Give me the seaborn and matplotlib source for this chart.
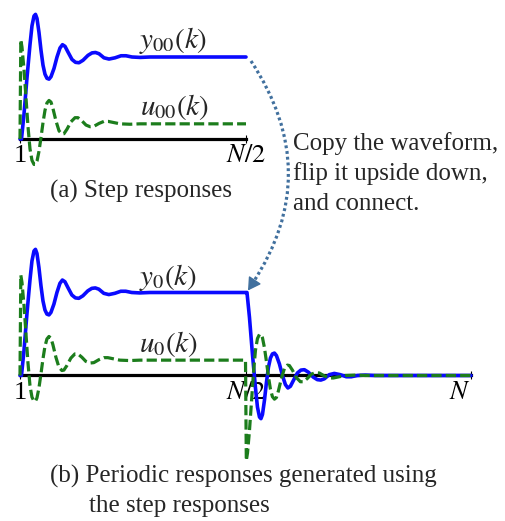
import numpy as np
import pandas as pd
import matplotlib
matplotlib.use("Agg")
import matplotlib.pyplot as plt
import seaborn as sns
from matplotlib.patches import FancyArrowPatch

# ---------------- data (k scaled so that N = 100) ----------------
N_HALF = 50
k_y00 = [0.0, 0.33, 0.88, 1.55, 2.21, 2.65, 3.10, 3.43, 3.76, 4.20, 4.65, 5.09, 5.53,
         5.97, 6.42, 6.86, 7.52, 8.19, 8.85, 9.40, 9.96, 10.62, 11.50, 12.28, 13.05,
         13.94, 15.04, 15.93, 16.70, 17.48, 18.58, 19.69, 21.02, 22.35, 23.45, 24.78,
         26.55, 28.76, 50.0]
y00 = [0.0, 0.0, 0.30, 0.75, 1.15, 1.38, 1.50, 1.52, 1.47, 1.30, 1.08, 0.90, 0.79,
       0.74, 0.73, 0.76, 0.86, 1.00, 1.11, 1.15, 1.13, 1.06, 0.97, 0.935, 0.93,
       0.96, 1.02, 1.05, 1.055, 1.04, 0.99, 0.975, 0.99, 1.015, 1.015, 1.0,
       0.995, 1.0, 1.0]

k_u00 = [0.0, 0.18, 0.44, 0.88, 1.33, 1.77, 2.21, 2.65, 3.10, 3.43, 3.76, 4.20, 4.65,
         5.09, 5.53, 5.97, 6.42, 6.86, 7.30, 7.96, 8.63, 9.29, 9.73, 10.40, 11.28,
         12.17, 12.83, 13.72, 14.60, 15.49, 16.37, 17.48, 18.58, 19.47, 20.80, 22.12,
         24.34, 26.55, 50.0]
u00 = [0.0, 1.21, 1.12, 0.85, 0.50, 0.15, -0.12, -0.26, -0.31, -0.31, -0.27, -0.15, 0.02,
       0.20, 0.35, 0.44, 0.47, 0.45, 0.37, 0.22, 0.10, 0.06, 0.065, 0.12, 0.21,
       0.26, 0.26, 0.22, 0.17, 0.15, 0.155, 0.19, 0.215, 0.215, 0.20, 0.185,
       0.18, 0.185, 0.185]

ticks_a = [0, N_HALF]
tick_labels_a = ["1", r"$N/2$"]
ticks_b = [0, N_HALF, 2 * N_HALF]
tick_labels_b = ["1", r"$N/2$", r"$N$"]

# periodic responses: copy the step waveform, flip it upside down, and connect
k_y0 = k_y00 + [k + N_HALF for k in k_y00]
y0 = y00 + [y00[-1] - v for v in y00]
k_u0 = k_u00 + [k + N_HALF for k in k_u00]
u0 = u00 + [u00[-1] - v for v in u00]

df_a_y = pd.DataFrame({"k": k_y00, "v": y00})
df_a_u = pd.DataFrame({"k": k_u00, "v": u00})
df_b_y = pd.DataFrame({"k": k_y0, "v": y0})
df_b_u = pd.DataFrame({"k": k_u0, "v": u0})

# ---------------- style ----------------
sns.set_style("white")
plt.rcParams["font.family"] = ["Liberation Serif", "DejaVu Serif"]
plt.rcParams["mathtext.fontset"] = "stix"

BLUE = "#0a0aff"
GREEN = "#1c7d1c"
ARROW = "#41709e"

W, H = 505, 521
fig = plt.figure(figsize=(W / 100, H / 100), dpi=100)


def axpos(x0, x1, ytop, ybot):
    return [x0 / W, 1 - ybot / H, (x1 - x0) / W, (ybot - ytop) / H]


def style_axis(ax, ticks, labels):
    for s in ("left", "right", "top"):
        ax.spines[s].set_visible(False)
    ax.spines["bottom"].set_position(("data", 0))
    ax.spines["bottom"].set_linewidth(2.3)
    ax.spines["bottom"].set_color("black")
    ax.spines["bottom"].set_zorder(2)
    ax.set_yticks([])
    ax.set_xticks(ticks)
    ax.set_xticklabels(labels, fontsize=19)
    ax.tick_params(axis="x", direction="inout", length=6, width=0.8, pad=1.5,
                   colors="black", bottom=True)
    ax.set_xlabel("")
    ax.set_ylabel("")
    ax.patch.set_alpha(0)


def draw(ax, dfy, dfu):
    sns.lineplot(data=dfy, x="k", y="v", ax=ax, color=BLUE, linewidth=2.6,
                 estimator=None, sort=False, zorder=3)
    sns.lineplot(data=dfu, x="k", y="v", ax=ax, color=GREEN, linewidth=2.3,
                 estimator=None, sort=False, linestyle="--", zorder=4)
    for ln in ax.lines:
        ln.set_clip_on(False)
        ln.set_solid_joinstyle("round")
        ln.set_solid_capstyle("round")
    ax.lines[-1].set_dashes((3.2, 1.3))


# panel (a)
axA = fig.add_axes(axpos(20, 246, 5, 175))
draw(axA, df_a_y, df_a_u)
axA.set_xlim(0, N_HALF)
axA.set_ylim((139 - 175) / 82, (139 - 5) / 82)
style_axis(axA, ticks_a, tick_labels_a)

# panel (b)
axB = fig.add_axes(axpos(20, 471, 230, 470))
draw(axB, df_b_y, df_b_u)
axB.set_xlim(0, 2 * N_HALF)
axB.set_ylim((375.5 - 470) / 83, (375.5 - 230) / 83)
style_axis(axB, ticks_b, tick_labels_b)
axB.get_xticklabels()[-1].set_horizontalalignment("right")

# overlay in pixel coordinates for annotations
ov = fig.add_axes([0, 0, 1, 1])
ov.set_xlim(0, W)
ov.set_ylim(H, 0)
ov.axis("off")
ov.patch.set_alpha(0)

fs = 18
fl = 21
ov.text(139, 48, r"$y_{00}(k)$", fontsize=fl, va="baseline")
ov.text(140, 115, r"$u_{00}(k)$", fontsize=fl, va="baseline")
ov.text(139, 285, r"$y_{0}(k)$", fontsize=fl, va="baseline")
ov.text(139, 352, r"$u_{0}(k)$", fontsize=fl, va="baseline")

ov.text(50, 198, "(a) Step responses", fontsize=fs, va="baseline")
ov.text(50, 483, "(b) Periodic responses generated using", fontsize=fs, va="baseline")
ov.text(89, 512, "the step responses", fontsize=fs, va="baseline")

ov.text(293, 150, "Copy the waveform,", fontsize=fs, va="baseline")
ov.text(293, 180, "flip it upside down,", fontsize=fs, va="baseline")
ov.text(293, 210, "and connect.", fontsize=fs, va="baseline")

arc = FancyArrowPatch((251, 61), (248, 290), connectionstyle="arc3,rad=-0.34",
                      arrowstyle="-", linestyle=(0, (0.9, 0.9)), linewidth=2.3,
                      color=ARROW, shrinkA=0, shrinkB=6, capstyle="butt")
ov.add_patch(arc)
head = FancyArrowPatch((254, 281.5), (248, 290.5),
                       arrowstyle="-|>,head_length=0.55,head_width=0.32",
                       mutation_scale=14, color=ARROW, linewidth=1.0,
                       shrinkA=0, shrinkB=0)
ov.add_patch(head)

fig.savefig("out.png", dpi=100)
